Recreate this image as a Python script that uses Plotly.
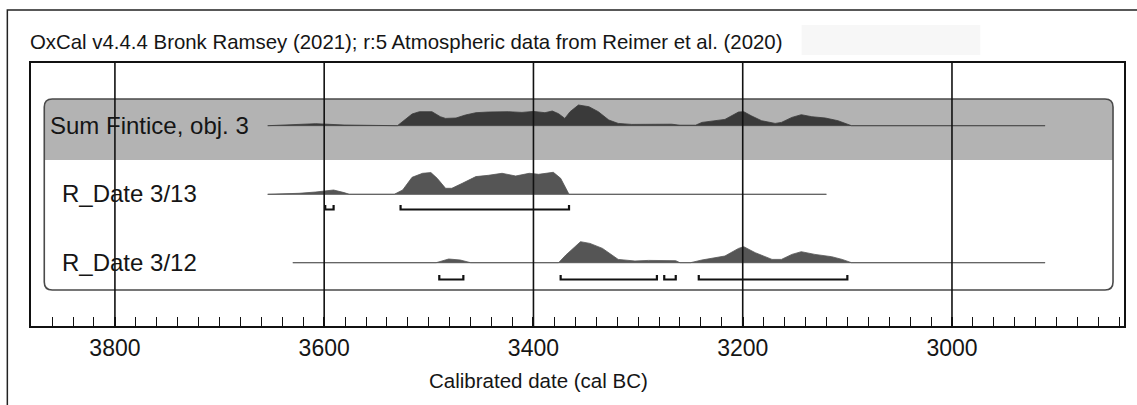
import plotly.graph_objects as go

# ---------------- data ----------------
title_text = "OxCal v4.4.4 Bronk Ramsey (2021); r:5 Atmospheric data from Reimer et al. (2020)"
x_title = "Calibrated date (cal BC)"
row_labels = ["Sum Fintice, obj. 3", "R_Date 3/13", "R_Date 3/12"]

major_ticks = [3800, 3600, 3400, 3200, 3000]
minor_step = 20

sum_years = [3654, 3621, 3608, 3581, 3530, 3516, 3509, 3497, 3489, 3484, 3474, 3465,
             3455, 3443, 3424, 3411, 3400, 3389, 3382, 3376, 3370, 3365, 3357, 3347,
             3338, 3328, 3319, 3306, 3290, 3268, 3260, 3245, 3239, 3217, 3204, 3199,
             3192, 3182, 3169, 3163, 3153, 3144, 3134, 3121, 3109, 3099, 3096, 2911]
sum_prob = [0, 1.3, 2.0, 0.7, 0, 11.7, 14, 14, 9, 7.3, 7.7, 10.7,
            13, 13.7, 14, 13.3, 14.3, 13, 14.7, 12, 7.3, 14, 20.7, 19,
            14, 5.7, 2.3, 1.3, 1.5, 1.5, 0.5, 0.5, 3.3, 6.3, 13.7, 14,
            10, 5, 2.3, 3.3, 8.3, 11, 9, 7.7, 5, 0.7, 0, 0]

r13_years = [3654, 3624, 3608, 3591, 3581, 3576, 3533, 3525, 3516, 3506, 3498, 3492,
             3484, 3478, 3468, 3455, 3443, 3430, 3417, 3404, 3395, 3381, 3374, 3366, 3120]
r13_prob = [0, 1, 2.3, 4.3, 1.7, 0, 0, 4.3, 17, 21, 21.7, 16,
            6, 6, 11, 17.7, 19, 21, 18.3, 21, 20, 22, 16, 0, 0]

r12_years = [3630, 3493, 3481, 3470, 3460, 3376, 3369, 3355, 3346, 3334, 3319, 3303,
             3290, 3264, 3260, 3250, 3239, 3217, 3204, 3199, 3188, 3172, 3163, 3153,
             3144, 3131, 3115, 3105, 3096, 2911]
r12_prob = [0, 0, 3.7, 2.7, 0, 0, 7.7, 21, 19.3, 14.3, 3.3, 1.7,
            2.3, 2, 0, 0, 2.7, 6.7, 14.3, 16, 10, 3.3, 3.3, 8.3,
            11, 8.3, 6, 3.3, 0, 0]

# 95.4% ranges (from, to) cal BC
r13_ranges = [(3599, 3591), (3527, 3366)]
r12_ranges = [(3490, 3467), (3374, 3282), (3275, 3264), (3242, 3100)]

# ---------------- layout constants ----------------
W, H = 1137, 405
L, R, T, B = 31, 1126, 63, 326          # plot area in pixels
X_RANGE = [3880.2, 2835.6]
Y_RANGE = [0, B - T]
FONT = "Liberation Sans, Arial, sans-serif"
TXT = "#151515"

def px(x):
    return (x - L) / (R - L)

def py(y):
    return (B - y) / (B - T)

row_base = [B - 125.7, B - 194.3, B - 262.7]   # baselines (y units = px above axis)
bracket_y = [None, B - 209.5, B - 279.5]
bracket_tick = 4.5

fig = go.Figure()

series = [(sum_years, sum_prob, "#3a3a3a"),
          (r13_years, r13_prob, "#555555"),
          (r12_years, r12_prob, "#555555")]

for (yrs, prob, col), base in zip(series, row_base):
    # thin baseline spanning the distribution
    fig.add_trace(go.Scatter(x=[yrs[0], yrs[-1]], y=[base, base], mode="lines",
                             line=dict(color="#808080", width=1.2), hoverinfo="skip"))
    fig.add_trace(go.Scatter(x=yrs, y=[base + p for p in prob], mode="lines",
                             fill="toself", fillcolor=col,
                             line=dict(color=col, width=0.8), hoverinfo="skip"))

for ranges, by in [(r13_ranges, bracket_y[1]), (r12_ranges, bracket_y[2])]:
    xs, ys = [], []
    for a, b in ranges:
        xs += [a, a, b, b, None]
        ys += [by + bracket_tick, by, by, by + bracket_tick, None]
    fig.add_trace(go.Scatter(x=xs, y=ys, mode="lines",
                             line=dict(color="#111111", width=2.2), hoverinfo="skip"))

shapes = []
# outer figure border (left & top)
shapes.append(dict(type="path", xref="paper", yref="paper",
                   path=f"M {px(7.3)},{py(H + 5)} L {px(7.3)},{py(10)} L {px(W + 5)},{py(10)}",
                   line=dict(color="#222222", width=1.5), layer="below"))
# faint rectangle next to title
shapes.append(dict(type="rect", xref="paper", yref="paper",
                   x0=px(803), x1=px(982), y0=py(55), y1=py(25),
                   fillcolor="#f7f7f7", line=dict(width=0), layer="below"))

# rounded group box
bx0, bx1, by0, by1, band = 44.3, 1115, 99, 290, 160
r = 8
band_path = (f"M {px(bx0 + r)},{py(by0)} L {px(bx1 - r)},{py(by0)} "
             f"Q {px(bx1)},{py(by0)} {px(bx1)},{py(by0 + r)} L {px(bx1)},{py(band)} "
             f"L {px(bx0)},{py(band)} L {px(bx0)},{py(by0 + r)} "
             f"Q {px(bx0)},{py(by0)} {px(bx0 + r)},{py(by0)} Z")
shapes.append(dict(type="path", xref="paper", yref="paper", path=band_path,
                   fillcolor="#b3b3b3", line=dict(width=0), layer="below"))
box_path = (f"M {px(bx0 + r)},{py(by0)} L {px(bx1 - r)},{py(by0)} "
            f"Q {px(bx1)},{py(by0)} {px(bx1)},{py(by0 + r)} L {px(bx1)},{py(by1 - r)} "
            f"Q {px(bx1)},{py(by1)} {px(bx1 - r)},{py(by1)} L {px(bx0 + r)},{py(by1)} "
            f"Q {px(bx0)},{py(by1)} {px(bx0)},{py(by1 - r)} L {px(bx0)},{py(by0 + r)} "
            f"Q {px(bx0)},{py(by0)} {px(bx0 + r)},{py(by0)} Z")
shapes.append(dict(type="path", xref="paper", yref="paper", path=box_path,
                   line=dict(color="#4a4a4a", width=1.6), layer="below"))

# vertical grid lines at major ticks, drawn over everything
for v in major_ticks:
    shapes.append(dict(type="line", xref="x", yref="paper", x0=v, x1=v, y0=0, y1=1,
                       line=dict(color="#111111", width=1.6), layer="above"))

annotations = [
    dict(text=title_text, xref="paper", yref="paper", x=px(28), y=py(42),
         xanchor="left", yanchor="middle", showarrow=False,
         font=dict(family=FONT, size=20.4, color=TXT)),
    dict(text=x_title, xref="paper", yref="paper", x=px(539.5), y=py(380),
         xanchor="center", yanchor="middle", showarrow=False,
         font=dict(family=FONT, size=20.5, color=TXT)),
]
label_x = [48.5, 60, 60]
label_y = [125.5, 193.5, 262.5]
for txt, lx, ly in zip(row_labels, label_x, label_y):
    annotations.append(dict(text=txt, xref="paper", yref="paper", x=px(lx), y=py(ly),
                            xanchor="left", yanchor="middle", showarrow=False,
                            font=dict(family=FONT, size=24, color=TXT)))

fig.update_layout(
    width=W, height=H,
    margin=dict(l=L, r=W - R, t=T, b=H - B, pad=0),
    paper_bgcolor="white", plot_bgcolor="white",
    showlegend=False,
    shapes=shapes,
    annotations=annotations,
    xaxis=dict(range=X_RANGE, tickvals=major_ticks, ticktext=[str(v) for v in major_ticks],
               ticks="inside", ticklen=9, tickwidth=1.6, tickcolor="#111111",
               minor=dict(dtick=minor_step, tick0=0, ticks="inside", ticklen=9,
                          tickwidth=1.4, tickcolor="#111111", showgrid=False),
               showline=True, linecolor="#111111", linewidth=2, mirror=True,
               showgrid=False, zeroline=False,
               tickfont=dict(family=FONT, size=23, color=TXT)),
    yaxis=dict(range=Y_RANGE, showline=True, linecolor="#111111", linewidth=1.6,
               mirror=True, showticklabels=False, ticks="", showgrid=False,
               zeroline=False, fixedrange=True),
)

fig.write_html("out.html", config={"displayModeBar": False},
               post_script="document.body.style.margin='0';")
